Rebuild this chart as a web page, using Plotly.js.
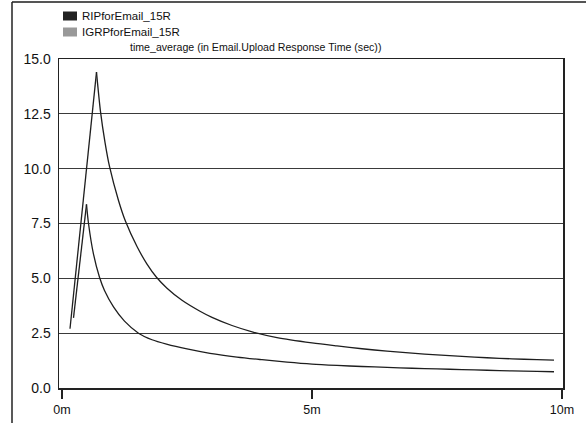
<!DOCTYPE html>
<html>
<head>
<meta charset="utf-8">
<script src="https://cdn.plot.ly/plotly-3.0.1.min.js"></script>
<style>
  html, body { margin: 0; padding: 0; background: #fff; }
  #chart { width: 586px; height: 423px; }
</style>
</head>
<body>
<div id="chart"></div>
<script>
// Simulation time (minutes) and time-averaged upload response time (sec)
const ripTime = [0.16, 0.69, 0.77, 0.86, 0.95, 1.13, 1.27, 1.5, 1.7, 1.89, 2.1, 2.4, 2.76, 3.0, 3.4, 3.82, 4.3, 5.0, 5.5, 6.0, 6.5, 7.0, 7.5, 8.0, 8.5, 9.0, 9.5, 9.84];
const ripValue = [2.70, 14.4, 12.6, 11.2, 10.1, 8.55, 7.6, 6.45, 5.65, 5.05, 4.55, 4.0, 3.5, 3.22, 2.85, 2.55, 2.3, 2.06, 1.92, 1.79, 1.68, 1.59, 1.51, 1.44, 1.38, 1.33, 1.29, 1.27];

const igrTime = [0.23, 0.49, 0.53, 0.63, 0.75, 0.85, 1.03, 1.25, 1.53, 1.8, 2.09, 2.5, 2.96, 3.5, 4.0, 4.5, 5.0, 5.5, 6.0, 6.5, 7.0, 7.5, 8.0, 8.5, 9.0, 9.5, 9.84];
const igrValue = [3.2, 8.37, 7.5, 6.1, 5.05, 4.45, 3.7, 3.05, 2.5, 2.2, 2.0, 1.78, 1.58, 1.41, 1.29, 1.18, 1.09, 1.03, 0.98, 0.94, 0.90, 0.87, 0.84, 0.81, 0.78, 0.76, 0.74];

const seriesNames = ['RIPforEmail_15R', 'IGRPforEmail_15R'];
const seriesColors = ['#222222', '#999999'];
const chartTitle = 'time_average (in Email.Upload Response Time (sec))';

const xTickVals = [0, 5, 10];
const xTickText = ['0m', '5m', '10m'];
const yTickVals = [0, 2.5, 5, 7.5, 10, 12.5, 15];
const yTickText = ['0.0', '2.5', '5.0', '7.5', '10.0', '12.5', '15.0'];

const FONT = 'Liberation Sans, Arial, Helvetica, sans-serif';
const LINE = { color: '#1e1e1e', width: 1.3 };

// Each series: a straight warm-up ramp to the peak, then a smooth decay from the peak on.
function seriesTraces(xs, ys, name) {
  return [
    { x: xs.slice(0, 2), y: ys.slice(0, 2), name: name, type: 'scatter', mode: 'lines',
      line: LINE, hoverinfo: 'x+y' },
    { x: xs.slice(1), y: ys.slice(1), name: name, type: 'scatter', mode: 'lines',
      line: Object.assign({ shape: 'spline', smoothing: 0.8 }, LINE), hoverinfo: 'x+y' }
  ];
}

const traces = [].concat(
  seriesTraces(ripTime, ripValue, seriesNames[0]),
  seriesTraces(igrTime, igrValue, seriesNames[1])
);

// plot area in pixels: left 59, right 563, top 59, bottom 388
const W = 586, H = 423, L = 59, R = 23, T = 59, B = 35;
const pw = W - L - R, ph = H - T - B;
const px = v => (v - L) / pw;          // page x -> paper x
const py = v => (H - B - v) / ph;      // page y -> paper y

const shapes = [
  // outer frame: top and left edges
  { type: 'line', xref: 'paper', yref: 'paper', x0: px(12), x1: px(590), y0: py(2), y1: py(2),
    line: { color: '#555', width: 2 } },
  { type: 'line', xref: 'paper', yref: 'paper', x0: px(12), x1: px(12), y0: py(2), y1: py(430),
    line: { color: '#222', width: 1.5 } }
];
const annotations = [];

// hand-drawn legend: filled square + series name
seriesNames.forEach((name, i) => {
  const cy = 16 + i * 16;
  shapes.push({ type: 'rect', xref: 'paper', yref: 'paper',
    x0: px(63), x1: px(77), y0: py(cy - 4.5), y1: py(cy + 4.5),
    fillcolor: seriesColors[i], line: { width: 0 } });
  annotations.push({ xref: 'paper', yref: 'paper', x: px(80), y: py(cy), xanchor: 'left', yanchor: 'middle',
    text: name, showarrow: false, font: { family: FONT, size: 11.5, color: '#111' } });
});

annotations.push({ xref: 'paper', yref: 'paper', x: px(128), y: py(47), xanchor: 'left', yanchor: 'middle',
  text: chartTitle, showarrow: false, font: { family: FONT, size: 10.6, color: '#111' } });

const layout = {
  width: W, height: H,
  margin: { l: L, r: R, t: T, b: B, pad: 0 },
  paper_bgcolor: '#ffffff', plot_bgcolor: '#ffffff',
  showlegend: false,
  font: { family: FONT, color: '#111' },
  xaxis: {
    range: [-0.06, 10.02], tickvals: xTickVals, ticktext: xTickText,
    showgrid: false, zeroline: false,
    showline: true, linecolor: '#222', linewidth: 1.5, mirror: true,
    ticks: 'outside', ticklen: 9, tickwidth: 1.5, tickcolor: '#222',
    tickfont: { family: FONT, size: 12.5, color: '#111' }
  },
  yaxis: {
    range: [0, 15], tickvals: yTickVals, ticktext: yTickText,
    showgrid: true, gridcolor: '#3a3a3a', gridwidth: 1.3, zeroline: false,
    showline: true, linecolor: '#222', linewidth: 1.5, mirror: true,
    ticks: '', ticklabelstandoff: 4,
    tickfont: { family: FONT, size: 14, color: '#111' }
  },
  shapes: shapes,
  annotations: annotations
};

Plotly.newPlot('chart', traces, layout, { displayModeBar: false, staticPlot: true });
</script>
</body>
</html>
